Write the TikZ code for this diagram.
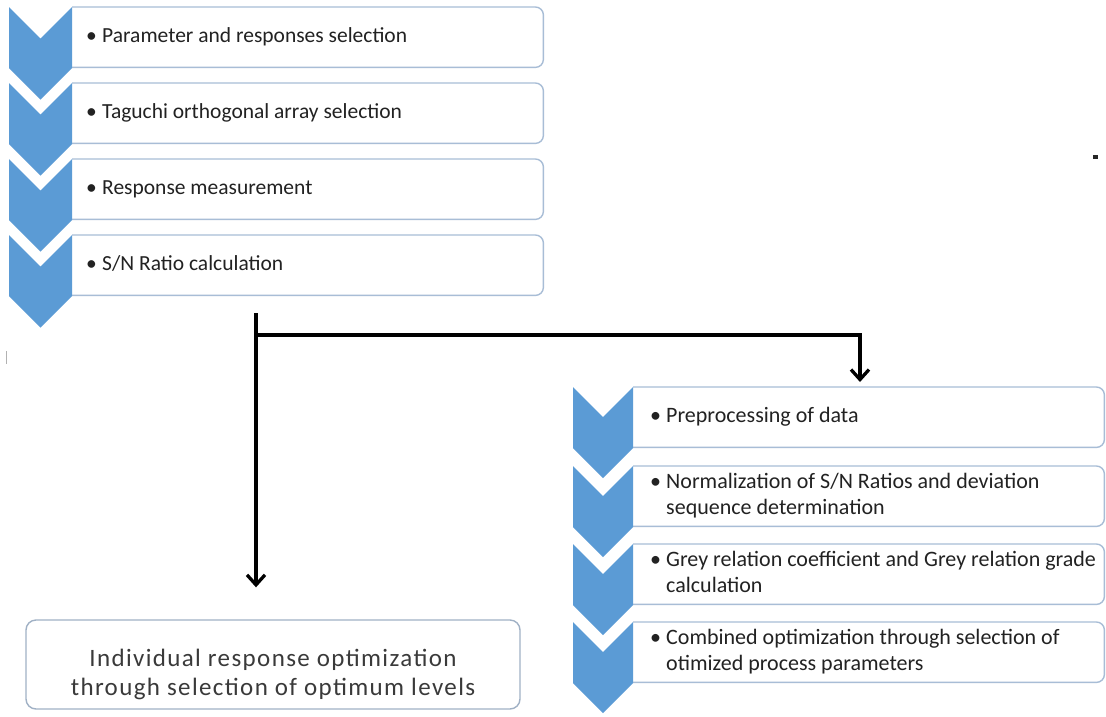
\documentclass[tikz,border=0pt]{standalone}
\usepackage{fontspec}
\setmainfont{Carlito}
\usetikzlibrary{arrows.meta,calc}

\definecolor{chevblue}{HTML}{5B9BD5}
\definecolor{boxedge}{HTML}{A8BDD6}
\definecolor{inktext}{HTML}{222222}
\definecolor{softtext}{HTML}{3A3A3A}

% bullet line(s): bullet in its own column, wrapped lines hang under the text
\newcommand\bul[1]{\begin{tabular}{@{}l@{}l@{}}\makebox[16pt][l]{\textbullet}&#1\end{tabular}}

% downward chevron: left x, top y, width, body height
\newcommand\chevron[4]{%
  \fill[chevblue] (#1,#2) -- ++({#3/2},{#3/2}) -- ++({#3/2},{-#3/2})
    -- ++(0,#4) -- ++({-#3/2},{#3/2}) -- ++({-#3/2},{-#3/2}) -- cycle;}

\tikzset{
  slot/.style={rectangle, inner sep=0pt, anchor=north west, minimum height=60pt},
  slotedge/.style={draw=boxedge, line width=1.4pt, rounded corners=8pt},
  steptext/.style={anchor=west, inner sep=0pt, text=inktext,
    font=\fontsize{21.5}{26}\selectfont},
  finalbox/.style={draw=boxedge!80!gray, line width=1.4pt, rounded corners=10pt,
    fill=white, minimum width=494pt, minimum height=89pt},
  finaltext/.style={align=center, inner sep=0pt, text=softtext,
    font=\fontsize{25}{29}\selectfont\addfontfeatures{LetterSpace=5.5}},
  flow/.style={line width=3.3pt, black,
    -{Straight Barb[length=10pt,width=18pt,line width=3.3pt]}},
}

\begin{document}
\begin{tikzpicture}[x=1pt,y=-1pt]
\fill[white] (0,0) rectangle (1106,716);
\useasboundingbox (0,0) rectangle (1106,716);

% ---- left column: Taguchi steps ----
\foreach \top/\nm in {7/a1,83/a2,159/a3,235/a4}{
  \node[slot, minimum width=471pt] (\nm) at (72,\top) {};
  \draw[slotedge] (\nm.north west) -- (\nm.north east) -- (\nm.south east) -- (\nm.south west);
  \chevron{9}{\top}{63}{61}
}
\node[steptext] (ta1) at (86,37)  {\bul{Parameter and responses selection}};
\node[steptext] (ta2) at (86,113) {\bul{Taguchi orthogonal array selection}};
\node[steptext] (ta3) at (86,189) {\bul{Response measurement}};
\node[steptext] (ta4) at (86,265) {\bul{S/N Ratio calculation}};

% ---- right column: grey relational steps ----
\foreach \top/\nm in {387/b1,466/b2,544/b3,622/b4}{
  \node[slot, minimum width=471pt] (\nm) at (633,\top) {};
  \draw[slotedge] (\nm.north west) -- (\nm.north east) -- (\nm.south east) -- (\nm.south west);
  \chevron{573}{\top}{60}{61}
}
\begin{scope}[steptext/.append style={font=\fontsize{22}{26}\selectfont}]
\node[steptext] (tb1) at (650,417) {\bul{Preprocessing of data}};
\node[steptext] (tb2) at (650,496) {\bul{Normalization of S/N Ratios and deviation\\&sequence determination}};
\node[steptext] (tb3) at (650,574) {\bul{Grey relation coefficient and Grey relation grade\\&calculation}};
\node[steptext] (tb4) at (650,652) {\bul{Combined optimization through selection of\\&otimized process parameters}};
\end{scope}

% ---- single-response result ----
\node[finalbox] (indiv) at (273,664.5) {};
\node[finaltext] (indivtext) at (273,674) {Individual response optimization\\through selection of optimum levels};

% ---- connectors ----
\coordinate (fork) at (256,313);
\coordinate (turn) at (860,335);
\draw[flow, shorten >=32pt] (fork) -- (fork |- indiv.north);
\draw[flow, shorten >=5pt] (fork |- turn) -- (turn) -- (turn |- b1.north);

% stray marks
\fill[black!85] (1093,155) rectangle (1098,159);
\draw[black!30, line width=1pt] (6,351) -- (6,364);
\end{tikzpicture}
\end{document}
